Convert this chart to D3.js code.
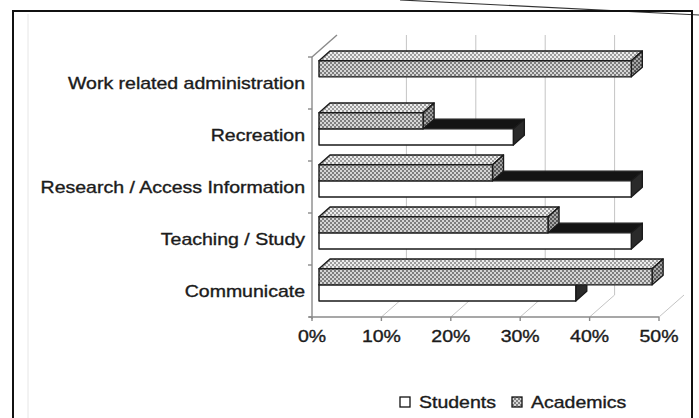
<!DOCTYPE html>
<html>
<head>
<meta charset="utf-8">
<script src="https://cdn.jsdelivr.net/npm/d3@7"></script>
<style>
  html, body { margin: 0; padding: 0; background: #fff; }
  svg { display: block; }
  text { font-family: "Liberation Sans", Arial, Helvetica, sans-serif; fill: #1b1b1b; stroke: #1b1b1b; stroke-width: 0.35px; }
</style>
</head>
<body>
<svg id="chart" width="699" height="418"></svg>
<script>
// Internet use by activity, students vs academics
const categories = ["Work related administration", "Recreation", "Research / Access Information", "Teaching / Study", "Communicate"];
const students   = [0, 28, 45, 45, 37];
const academics  = [45, 15, 25, 33, 48];
const seriesNames = ["Students", "Academics"];
const tickValues = [0, 10, 20, 30, 40, 50];
const tickLabels = ["0%", "10%", "20%", "30%", "40%", "50%"];

const svg = d3.select("#chart");
const W = 699, H = 418;

// plot frame: front plane of the 3-D box and the depth offset to its back plane
const plot = { left: 312, right: 659, top: 57, bottom: 317 };
const depth = { dx: 25, dy: -22 };
const barDepth = [0.28, 0.72];   // fraction of box depth occupied by the bars
const stretch = 1.22;            // wide lettering

const x = d3.scaleLinear().domain([0, 50]).range([plot.left, plot.right]);
const y = d3.scaleBand().domain(categories).range([plot.top, plot.bottom])
  .paddingInner(0.38).paddingOuter(0.19);
const ySeries = d3.scaleBand().domain(["Academics", "Students"]).range([0, y.bandwidth()]);

// fill patterns for the checkered series
const defs = svg.append("defs");
function checker(id, bg, fg) {
  const p = defs.append("pattern").attr("id", id).attr("width", 4).attr("height", 4)
    .attr("patternUnits", "userSpaceOnUse");
  p.append("rect").attr("width", 4).attr("height", 4).attr("fill", bg);
  p.append("rect").attr("width", 2).attr("height", 2).attr("fill", fg);
  p.append("rect").attr("x", 2).attr("y", 2).attr("width", 2).attr("height", 2).attr("fill", fg);
}
checker("acadFront", "#d6d6d6", "#7e7e7e");
checker("acadTop", "#ececec", "#9c9c9c");
checker("acadEnd", "#a6a6a6", "#555555");

svg.append("rect").attr("width", W).attr("height", H).attr("fill", "#fff");

// page edge and outer frame
svg.append("line").attr("x1", 400).attr("y1", 0).attr("x2", 699).attr("y2", 15)
  .attr("stroke", "#333").attr("stroke-width", 1.2);
svg.append("line").attr("x1", 28).attr("y1", 14).attr("x2", 28).attr("y2", 418)
  .attr("stroke", "#e6e6e6").attr("stroke-width", 1);
svg.append("rect").attr("x", 13).attr("y", 11).attr("width", 679).attr("height", 420)
  .attr("fill", "none").attr("stroke", "#111").attr("stroke-width", 2);

const grid = svg.append("g").attr("stroke", "#c4c4c4").attr("stroke-width", 1).attr("fill", "none");
// floor lines running back from each tick
grid.selectAll("line.floor").data(tickValues.slice(1)).join("line")
  .attr("class", "floor")
  .attr("x1", d => x(d)).attr("y1", plot.bottom)
  .attr("x2", d => x(d) + depth.dx).attr("y2", plot.bottom + depth.dy);
// back wall gridlines
grid.selectAll("line.wall").data(tickValues.slice(1, -1)).join("line")
  .attr("class", "wall")
  .attr("x1", d => x(d) + depth.dx).attr("y1", plot.bottom + depth.dy)
  .attr("x2", d => x(d) + depth.dx).attr("y2", plot.top + depth.dy);

// axes of the front plane
const axisG = svg.append("g").attr("stroke", "#8a8a8a").attr("stroke-width", 1.4).attr("fill", "none");
axisG.append("line").attr("x1", plot.left).attr("y1", plot.top).attr("x2", plot.left).attr("y2", plot.bottom + 2);
axisG.append("line").attr("x1", plot.left).attr("y1", plot.top)
  .attr("x2", plot.left + depth.dx).attr("y2", plot.top + depth.dy);
axisG.append("line").attr("x1", plot.left - 3).attr("y1", plot.bottom).attr("x2", plot.right).attr("y2", plot.bottom);
axisG.selectAll("line.ytick").data(d3.range(categories.length + 1)).join("line")
  .attr("class", "ytick")
  .attr("x1", plot.left - 4).attr("x2", plot.left)
  .attr("y1", i => plot.top + i * y.step()).attr("y2", i => plot.top + i * y.step());
axisG.selectAll("line.xtick").data(tickValues).join("line")
  .attr("class", "xtick")
  .attr("x1", d => x(d)).attr("x2", d => x(d))
  .attr("y1", plot.bottom).attr("y2", plot.bottom + 4);

// 3-D bars
const f0x = barDepth[0] * depth.dx, f0y = barDepth[0] * depth.dy;
const f1x = barDepth[1] * depth.dx, f1y = barDepth[1] * depth.dy;
const styles = {
  Students:  { front: "#ffffff", top: "#141414", end: "#2a2a2a" },
  Academics: { front: "url(#acadFront)", top: "url(#acadTop)", end: "url(#acadEnd)" }
};
const bars = [];
categories.forEach((c, i) => {
  bars.push({ cat: c, series: "Students", value: students[i] });
  bars.push({ cat: c, series: "Academics", value: academics[i] });
});
const barG = svg.append("g").attr("stroke", "#1a1a1a").attr("stroke-width", 1.4).attr("stroke-linejoin", "round");
bars.filter(b => b.value > 0).forEach(b => {
  const xl = x(0), xr = x(b.value);
  const yt = y(b.cat) + ySeries(b.series);
  const yb = yt + ySeries.bandwidth();
  const st = styles[b.series];
  const g = barG.append("g");
  g.append("polygon").attr("fill", st.top).attr("points", [
    [xl + f0x, yt + f0y], [xr + f0x, yt + f0y], [xr + f1x, yt + f1y], [xl + f1x, yt + f1y]
  ].join(" "));
  g.append("polygon").attr("fill", st.end).attr("points", [
    [xr + f0x, yt + f0y], [xr + f1x, yt + f1y], [xr + f1x, yb + f1y], [xr + f0x, yb + f0y]
  ].join(" "));
  g.append("rect").attr("fill", st.front)
    .attr("x", xl + f0x).attr("y", yt + f0y)
    .attr("width", xr - xl).attr("height", yb - yt);
});

// category labels
svg.append("g").selectAll("text").data(categories).join("text")
  .attr("transform", d => `translate(305,${y(d) + y.bandwidth() / 2 + 5.5}) scale(${stretch},1)`)
  .attr("text-anchor", "end").attr("font-size", 16)
  .text(d => d);

// value tick labels
svg.append("g").selectAll("text").data(tickValues).join("text")
  .attr("transform", (d, i) => `translate(${x(d)},342) scale(${stretch},1)`)
  .attr("text-anchor", "middle").attr("font-size", 16)
  .text((d, i) => tickLabels[i]);

// legend
const legend = svg.append("g");
const legendX = [400, 512];
seriesNames.forEach((s, i) => {
  legend.append("rect").attr("x", legendX[i]).attr("y", 397).attr("width", 10).attr("height", 10)
    .attr("fill", s === "Students" ? "#fff" : "url(#acadFront)")
    .attr("stroke", "#111").attr("stroke-width", 1.3);
  legend.append("text")
    .attr("transform", `translate(${legendX[i] + 19},408) scale(${stretch},1)`)
    .attr("font-size", 16).text(s);
});
</script>
</body>
</html>
